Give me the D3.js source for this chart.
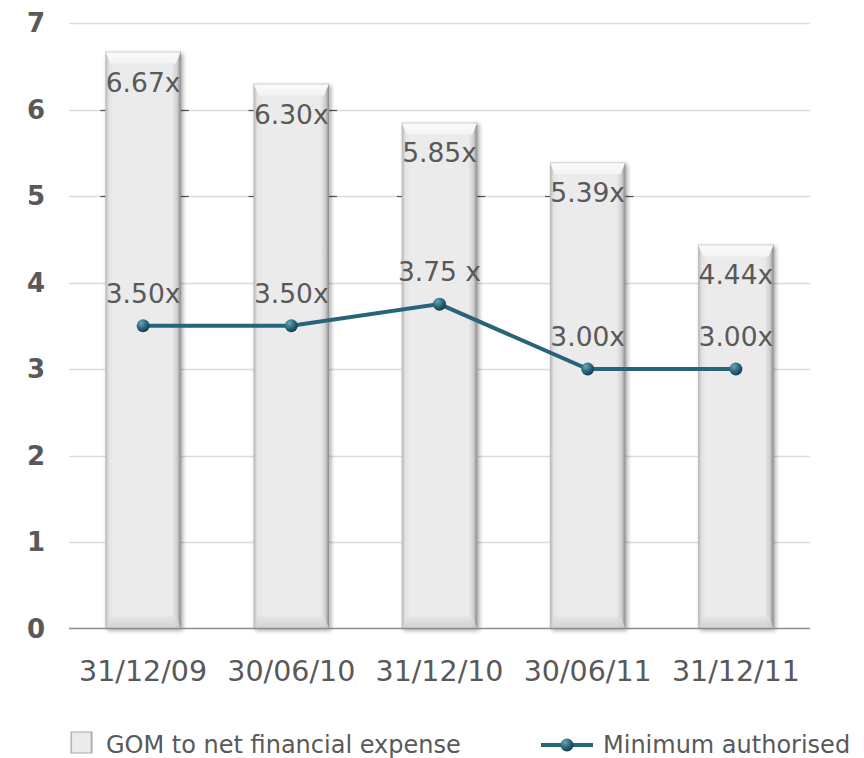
<!DOCTYPE html>
<html>
<head>
<meta charset="utf-8">
<script src="https://cdn.jsdelivr.net/npm/d3@7/dist/d3.min.js"></script>
<style>
  html, body { margin: 0; padding: 0; background: #fff; }
  svg { display: block; font-family: Verdana, "DejaVu Sans", sans-serif; }
</style>
</head>
<body>
<svg id="chart" width="864" height="758"></svg>
<script>
// Reporting dates on the category axis
const categories = ["31/12/09", "30/06/10", "31/12/10", "30/06/11", "31/12/11"];
// GOM to net financial expense (bars)
const gomValues = [6.67, 6.30, 5.85, 5.39, 4.44];
const gomLabels = ["6.67x", "6.30x", "5.85x", "5.39x", "4.44x"];
// Minimum authorised covenant (line)
const minValues = [3.50, 3.50, 3.75, 3.00, 3.00];
const minLabels = ["3.50x", "3.50x", "3.75 x", "3.00x", "3.00x"];
// Value axis ticks
const yTicks = [0, 1, 2, 3, 4, 5, 6, 7];
const seriesNames = ["GOM to net financial expense", "Minimum authorised"];

const svg = d3.select("#chart");
const margin = { left: 69, right: 54, top: 23, bottom: 130 };
const W = 864, H = 758;

const x = d3.scaleBand().domain(categories)
  .range([margin.left, W - margin.right]).paddingInner(0.49).paddingOuter(0.245);
const y = d3.scaleLinear().domain([0, 7]).range([H - margin.bottom + 0.5, margin.top]);

const textCol = "#595959";
const lineCol = "#286478";

// defs: bar gradients, shadow, marker sphere
const defs = svg.append("defs");
const hg = defs.append("linearGradient").attr("id", "barH").attr("x1", 0).attr("x2", 1).attr("y1", 0).attr("y2", 0);
hg.append("stop").attr("offset", "0%").attr("stop-color", "#b5b5b5");
hg.append("stop").attr("offset", "5%").attr("stop-color", "#e4e4e4");
hg.append("stop").attr("offset", "12%").attr("stop-color", "#ebebeb");
hg.append("stop").attr("offset", "88%").attr("stop-color", "#ebebeb");
hg.append("stop").attr("offset", "95%").attr("stop-color", "#cfcfcf");
hg.append("stop").attr("offset", "100%").attr("stop-color", "#888");

const bevTop = defs.append("linearGradient").attr("id", "bevTop").attr("x1", 0).attr("x2", 0).attr("y1", 0).attr("y2", 1);
bevTop.append("stop").attr("offset", "0%").attr("stop-color", "#fcfcfc");
bevTop.append("stop").attr("offset", "100%").attr("stop-color", "#f3f3f3");

const bevBot = defs.append("linearGradient").attr("id", "bevBot").attr("x1", 0).attr("x2", 0).attr("y1", 0).attr("y2", 1);
bevBot.append("stop").attr("offset", "0%").attr("stop-color", "#e2e2e2");
bevBot.append("stop").attr("offset", "100%").attr("stop-color", "#cdcdcd");

const shadow = defs.append("filter").attr("id", "shadow").attr("x", "-20%").attr("y", "-10%").attr("width", "150%").attr("height", "130%");
shadow.append("feDropShadow").attr("dx", 2).attr("dy", 2).attr("stdDeviation", 2.2)
  .attr("flood-color", "#000").attr("flood-opacity", 0.35);

const sphere = defs.append("radialGradient").attr("id", "sphere").attr("cx", "35%").attr("cy", "30%").attr("r", "70%");
sphere.append("stop").attr("offset", "0%").attr("stop-color", "#6fa3b6");
sphere.append("stop").attr("offset", "55%").attr("stop-color", "#2b6a80");
sphere.append("stop").attr("offset", "100%").attr("stop-color", "#163f4e");

// gridlines
svg.append("g").selectAll("line").data(yTicks.filter(d => d > 0)).join("line")
  .attr("x1", margin.left).attr("x2", W - margin.right)
  .attr("y1", d => Math.round(y(d)) + 0.5).attr("y2", d => Math.round(y(d)) + 0.5)
  .attr("stroke", "#dcdcdc").attr("stroke-width", 1.5);

// short dark marks where upper gridlines meet the bar edges
const marks = [];
categories.forEach((c, i) => {
  [5, 6].forEach(t => { if (gomValues[i] > t) marks.push({ c, t }); });
});
svg.append("g").selectAll("line").data(marks.flatMap(m => [
  { x1: x(m.c) - 5, x2: x(m.c) + 3, t: m.t },
  { x1: x(m.c) + x.bandwidth() - 3, x2: x(m.c) + x.bandwidth() + 8, t: m.t }
])).join("line")
  .attr("x1", d => d.x1).attr("x2", d => d.x2)
  .attr("y1", d => Math.round(y(d.t)) + 0.5).attr("y2", d => Math.round(y(d.t)) + 0.5)
  .attr("stroke", "#555").attr("stroke-width", 1.2);

// bars with bevel
const bw = x.bandwidth();
const bev = 12;
const bars = svg.append("g").selectAll("g").data(categories.map((c, i) => ({ c, v: gomValues[i] }))).join("g");
bars.append("rect")
  .attr("x", d => x(d.c)).attr("y", d => y(d.v))
  .attr("width", bw).attr("height", d => y(0) - y(d.v))
  .attr("fill", "url(#barH)").attr("filter", "url(#shadow)");
bars.append("path")
  .attr("d", d => {
    const x0 = x(d.c), x1 = x0 + bw, y0 = y(d.v);
    return `M${x0},${y0}L${x1},${y0}L${x1 - 5},${y0 + bev}L${x0 + 5},${y0 + bev}Z`;
  })
  .attr("fill", "url(#bevTop)");
bars.append("path")
  .attr("d", d => {
    const x0 = x(d.c), x1 = x0 + bw, y1 = y(0);
    return `M${x0 + 5},${y1 - bev}L${x1 - 5},${y1 - bev}L${x1},${y1}L${x0},${y1}Z`;
  })
  .attr("fill", "url(#bevBot)").attr("opacity", 0.8);
bars.append("line")
  .attr("x1", d => x(d.c)).attr("x2", d => x(d.c) + bw)
  .attr("y1", d => y(d.v) + 0.5).attr("y2", d => y(d.v) + 0.5)
  .attr("stroke", "#cfcfcf").attr("stroke-width", 1);

// baseline
svg.append("line")
  .attr("x1", margin.left).attr("x2", W - margin.right)
  .attr("y1", y(0)).attr("y2", y(0))
  .attr("stroke", "#8c8c8c").attr("stroke-width", 1.5);

// y-axis labels
svg.append("g").selectAll("text").data(yTicks).join("text")
  .attr("x", 45).attr("y", d => y(d)).attr("dy", "0.36em")
  .attr("text-anchor", "end")
  .attr("font-weight", "bold").attr("font-size", 26).attr("fill", textCol)
  .text(d => d);

// x-axis labels
svg.append("g").selectAll("text").data(categories).join("text")
  .attr("x", d => x(d) + bw / 2).attr("y", 681)
  .attr("text-anchor", "middle").attr("font-size", 28.5).attr("fill", textCol)
  .text(d => d);

// line series
const cx = c => x(c) + bw / 2;
const pts = categories.map((c, i) => ({ c, v: minValues[i] }));
svg.append("path")
  .datum(pts)
  .attr("d", d3.line().x(d => cx(d.c)).y(d => y(d.v)))
  .attr("fill", "none").attr("stroke", lineCol).attr("stroke-width", 4);
svg.append("g").selectAll("circle").data(pts).join("circle")
  .attr("cx", d => cx(d.c)).attr("cy", d => y(d.v)).attr("r", 6.5)
  .attr("fill", "url(#sphere)");

// bar value labels
svg.append("g").selectAll("text").data(categories).join("text")
  .attr("x", d => cx(d)).attr("y", (d, i) => y(gomValues[i]) + 40)
  .attr("text-anchor", "middle").attr("font-size", 26.5).attr("fill", textCol)
  .text((d, i) => gomLabels[i]);

// line value labels
svg.append("g").selectAll("text").data(categories).join("text")
  .attr("x", d => cx(d)).attr("y", (d, i) => y(minValues[i]) - 23)
  .attr("text-anchor", "middle").attr("font-size", 26.5).attr("fill", textCol)
  .text((d, i) => minLabels[i]);

// legend
const lg = svg.append("g");
lg.append("rect").attr("x", 71).attr("y", 732).attr("width", 21).attr("height", 21)
  .attr("fill", "url(#barH)").attr("stroke", "#aaa");
lg.append("text").attr("x", 106).attr("y", 753).attr("font-size", 24).attr("fill", textCol)
  .text(seriesNames[0]);
lg.append("line").attr("x1", 541).attr("x2", 593).attr("y1", 745).attr("y2", 745)
  .attr("stroke", lineCol).attr("stroke-width", 4);
lg.append("circle").attr("cx", 567).attr("cy", 745).attr("r", 6.5).attr("fill", "url(#sphere)");
lg.append("text").attr("x", 603).attr("y", 753).attr("font-size", 24).attr("fill", textCol)
  .text(seriesNames[1]);
</script>
</body>
</html>
